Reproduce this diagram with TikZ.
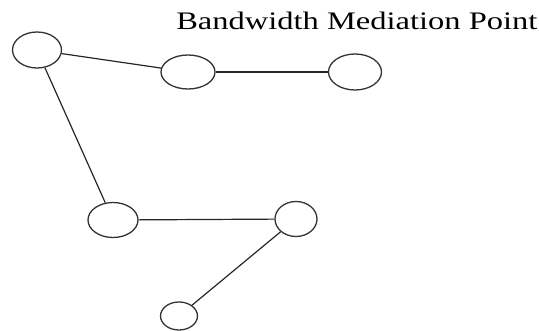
\documentclass[tikz,border=0pt]{standalone}
\usepackage{fontspec}
\setmainfont{Liberation Serif}
\usetikzlibrary{shapes.geometric}
\tikzset{
  vtx/.style={draw=black!80, line width=1.3pt, ellipse, inner sep=0pt},
  lnk/.style={draw=black!85, line width=1.2pt},
  ttl/.style={anchor=base west, inner sep=0pt, xscale=1.29, font=\fontsize{25.2}{30}\selectfont}
}
\begin{document}
\begin{tikzpicture}[x=1pt,y=-1pt]
\useasboundingbox (0,0) rectangle (539,331);
\node[ttl] (t) at (176,30) {Bandwidth Mediation Point};
\node[vtx, minimum width=49pt, minimum height=36pt] (a) at (37,50) {};
\node[vtx, minimum width=54pt, minimum height=34pt] (b) at (188,72) {};
\node[vtx, minimum width=53pt, minimum height=36pt] (c) at (355,72) {};
\node[vtx, minimum width=50pt, minimum height=35pt] (d) at (113,220) {};
\node[vtx, minimum width=42pt, minimum height=35pt] (e) at (296,219) {};
\node[vtx, minimum width=37pt, minimum height=28pt] (f) at (179,316) {};
\draw[lnk] (a) -- (b);
\draw[lnk] (b) -- (c);
\draw[lnk] (a) -- (d);
\draw[lnk] (d) -- (e);
\draw[lnk] (e) -- (f);
\end{tikzpicture}
\end{document}
